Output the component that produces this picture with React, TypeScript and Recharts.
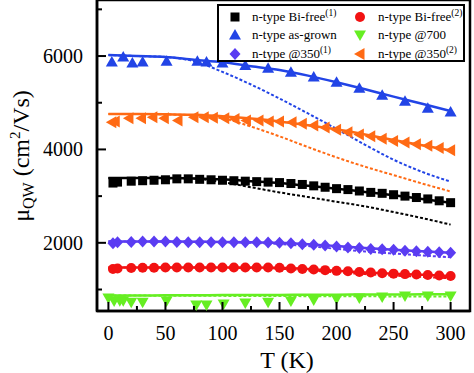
import React from "react";
import {
  ComposedChart,
  Line,
  Scatter,
  XAxis,
  YAxis,
  ReferenceArea,
} from "recharts";

// measured points (T in K, mobility in cm^2/Vs)
const tBiFree1 = [4, 8, 20, 30, 40, 50, 60, 70, 80, 90, 100, 110, 120, 130, 140, 150, 160, 170, 180, 190, 200, 210, 220, 230, 240, 250, 260, 270, 280, 290, 300];
const vBiFree1 = [3280, 3300, 3320, 3330, 3340, 3350, 3370, 3370, 3360, 3350, 3340, 3330, 3320, 3310, 3300, 3290, 3270, 3250, 3220, 3190, 3160, 3140, 3110, 3080, 3060, 3030, 3000, 2970, 2940, 2900, 2860];

const tBiFree2 = tBiFree1;
const vBiFree2 = [1440, 1450, 1460, 1465, 1465, 1470, 1470, 1470, 1470, 1470, 1470, 1470, 1470, 1470, 1470, 1465, 1450, 1440, 1430, 1415, 1400, 1390, 1375, 1365, 1350, 1340, 1330, 1320, 1310, 1300, 1290];

const tAsGrown = [3, 13, 21, 30, 51, 78, 86, 100, 120, 140, 160, 180, 200, 220, 240, 260, 280, 300];
const vAsGrown = [5870, 5980, 5850, 5870, 5890, 5890, 5870, 5850, 5800, 5740, 5655, 5550, 5440, 5310, 5160, 5030, 4880, 4800];

const t700 = [0, 5, 10, 13, 20, 30, 51, 77, 86, 101, 120, 140, 160, 180, 200, 220, 240, 260, 280, 300];
const v700 = [820, 755, 760, 760, 730, 730, 755, 670, 670, 690, 710, 730, 755, 775, 800, 820, 840, 860, 860, 860];

const t350a = tBiFree1;
const v350a = [1990, 2010, 2020, 2030, 2030, 2030, 2020, 2010, 2010, 2010, 2010, 2010, 2010, 2010, 2005, 2000, 1990, 1970, 1960, 1940, 1920, 1900, 1890, 1870, 1860, 1850, 1830, 1820, 1810, 1800, 1790];

const t350b = [3, 6, 18, 29, 39, 49, 61, 75, 84, 92, 102, 111, 121, 132, 141, 150, 161, 170, 180, 190, 200, 210, 220, 230, 240, 250, 260, 270, 280, 290, 300];
const v350b = [4580, 4600, 4670, 4670, 4690, 4670, 4620, 4690, 4690, 4680, 4670, 4650, 4620, 4620, 4600, 4600, 4580, 4550, 4510, 4470, 4420, 4370, 4320, 4280, 4230, 4180, 4150, 4110, 4080, 4030, 3980];

// model curves
const tFit = [0, 25, 50, 75, 100, 125, 150, 175, 200, 225, 250, 275, 300];
const fitBiFree1 = [3390, 3390, 3390, 3380, 3360, 3320, 3280, 3220, 3160, 3090, 3020, 2940, 2860];
const dashBiFree1 = [3390, 3390, 3385, 3375, 3300, 3190, 3080, 2980, 2880, 2780, 2660, 2530, 2390];
const fitBiFree2 = [1470, 1470, 1470, 1470, 1470, 1470, 1465, 1440, 1400, 1365, 1340, 1315, 1290];
const dashBiFree2 = [1470, 1470, 1470, 1470, 1465, 1460, 1445, 1410, 1370, 1330, 1300, 1270, 1240];
const fitAsGrown = [6020, 6000, 5980, 5920, 5870, 5780, 5700, 5580, 5440, 5290, 5130, 4980, 4820];
const dashAsGrown = [6020, 6000, 5980, 5890, 5660, 5390, 5090, 4770, 4440, 4100, 3780, 3520, 3310];
const fit700 = [870, 872, 875, 877, 880, 882, 885, 887, 890, 892, 895, 897, 900];
const dash700 = [870, 870, 868, 866, 864, 862, 860, 858, 856, 854, 852, 850, 848];
const fit350a = [2030, 2030, 2030, 2025, 2020, 2010, 2000, 1970, 1930, 1890, 1850, 1820, 1790];
const dash350a = [2030, 2030, 2030, 2025, 2015, 2000, 1975, 1930, 1870, 1815, 1770, 1730, 1690];
const fit350b = [4760, 4760, 4755, 4740, 4710, 4660, 4600, 4520, 4430, 4320, 4200, 4090, 3980];
const dash350b = [4760, 4760, 4750, 4730, 4670, 4490, 4280, 4050, 3830, 3630, 3450, 3270, 3100];

const xTicks = [0, 25, 50, 75, 100, 125, 150, 175, 200, 225, 250, 275, 300];
const yTicks = [1000, 2000, 3000, 4000, 5000, 6000, 7000];

const BLACK = "#000000";
const RED = "#f21212";
const BLUE = "#2244e6";
const GREEN = "#66ee22";
const PURPLE = "#5a3cf2";
const ORANGE = "#ff6a14";

const FONT = "Liberation Serif, DejaVu Serif, serif";

const zip = (ts: number[], vs: number[]) => ts.map((t, i) => ({ t, v: vs[i] }));

type Kind = "square" | "circle" | "up" | "down" | "diamond" | "left";

const marker = (kind: Kind, cx: number, cy: number, color: string) => {
  switch (kind) {
    case "square":
      return <rect x={cx - 4.5} y={cy - 4.5} width={9} height={9} fill={color} />;
    case "circle":
      return <circle cx={cx} cy={cy} r={5} fill={color} />;
    case "up":
      return <polygon points={`${cx},${cy - 6} ${cx - 6},${cy + 4.5} ${cx + 6},${cy + 4.5}`} fill={color} />;
    case "down":
      return <polygon points={`${cx},${cy + 6} ${cx - 6},${cy - 4.5} ${cx + 6},${cy - 4.5}`} fill={color} />;
    case "diamond":
      return <polygon points={`${cx},${cy - 6} ${cx + 5.5},${cy} ${cx},${cy + 6} ${cx - 5.5},${cy}`} fill={color} />;
    case "left":
      return <polygon points={`${cx - 6},${cy} ${cx + 4.5},${cy - 6} ${cx + 4.5},${cy + 6}`} fill={color} />;
  }
};

const shapeOf = (kind: Kind, color: string) => (p: any) => marker(kind, p.cx, p.cy, color);

const series = [
  { name: "Bi-free", sup: "(1)", kind: "square" as Kind, color: BLACK, pts: zip(tBiFree1, vBiFree1), fit: fitBiFree1, dash: dashBiFree1 },
  { name: "Bi-free", sup: "(2)", kind: "circle" as Kind, color: RED, pts: zip(tBiFree2, vBiFree2), fit: fitBiFree2, dash: dashBiFree2 },
  { name: "as-grown", sup: "", kind: "up" as Kind, color: BLUE, pts: zip(tAsGrown, vAsGrown), fit: fitAsGrown, dash: dashAsGrown },
  { name: "@700", sup: "", kind: "down" as Kind, color: GREEN, pts: zip(t700, v700), fit: fit700, dash: dash700 },
  { name: "@350", sup: "(1)", kind: "diamond" as Kind, color: PURPLE, pts: zip(t350a, v350a), fit: fit350a, dash: dash350a },
  { name: "@350", sup: "(2)", kind: "left" as Kind, color: ORANGE, pts: zip(t350b, v350b), fit: fit350b, dash: dash350b },
];

const XTick = (props: any) => {
  const { x, y, payload } = props;
  const major = payload.value % 50 === 0;
  return (
    <g>
      <line x1={x} x2={x} y1={y} y2={y - (major ? 9 : 5)} stroke="#000" strokeWidth={2} />
      {major && (
        <text x={x} y={y + 29} textAnchor="middle" style={{ fontFamily: FONT }} fontSize={20} fill="#000">
          {payload.value}
        </text>
      )}
    </g>
  );
};

const YTick = (props: any) => {
  const { x, y, payload } = props;
  const major = payload.value % 2000 === 0;
  return (
    <g>
      <line x1={x} x2={x + (major ? 9 : 5)} y1={y} y2={y} stroke="#000" strokeWidth={2} />
      {major && (
        <text x={x - 14} y={y + 7} textAnchor="end" style={{ fontFamily: FONT }} fontSize={20} fill="#000">
          {payload.value}
        </text>
      )}
    </g>
  );
};

const YTitle = () => (
  <text
    x={0}
    y={0}
    transform="translate(29,156) rotate(-90)"
    textAnchor="middle"
    style={{ fontFamily: FONT }}
    fontSize={24}
    fill="#000"
  >
    μ
    <tspan dy={5} fontSize={16}>QW</tspan>
    <tspan dy={-5}> (cm</tspan>
    <tspan dy={-9} fontSize={15}>2</tspan>
    <tspan dy={9}>/Vs)</tspan>
  </text>
);

const XTitle = () => (
  <text x={287} y={368} textAnchor="middle" style={{ fontFamily: FONT }} fontSize={24} fill="#000">
    T (K)
  </text>
);

const LegendBox = () => {
  const rowY = [11, 29, 48];
  const colMarker = [16, 141];
  const colText = [33, 159];
  return (
    <div
      style={{
        position: "absolute",
        left: 217,
        top: 4,
        width: 244,
        height: 54,
        border: "2px solid #000",
        background: "#fff",
        fontFamily: FONT,
        fontSize: 13,
        color: "#000",
      }}
    >
      {series.map((s, i) => {
        const col = i % 2;
        const row = Math.floor(i / 2);
        return (
          <React.Fragment key={i}>
            <svg
              width={16}
              height={16}
              style={{ position: "absolute", left: colMarker[col] - 8, top: rowY[row] - 8 }}
            >
              {marker(s.kind, 8, 8, s.color)}
            </svg>
            <div
              style={{
                position: "absolute",
                left: colText[col],
                top: rowY[row] - 9,
                whiteSpace: "nowrap",
                lineHeight: "18px",
              }}
            >
              n-type {s.name}
              {s.sup && <span style={{ fontSize: 9.5, position: "relative", top: -5 }}>{s.sup}</span>}
            </div>
          </React.Fragment>
        );
      })}
    </div>
  );
};

export default function App() {
  return (
    <div style={{ position: "absolute", left: 0, top: 0, width: 474, height: 373, background: "#fff" }}>
      <ComposedChart width={474} height={373} margin={{ top: 0, right: 4, left: 0, bottom: 0 }}>
        <XAxis
          type="number"
          dataKey="t"
          domain={[-10, 317]}
          allowDataOverflow
          ticks={xTicks}
          interval={0}
          tickSize={0}
          tickMargin={0}
          tick={<XTick />}
          tickLine={false}
          axisLine={{ stroke: "#000", strokeWidth: 2.5 }}
          height={62}
          label={{ content: () => <XTitle /> }}
        />
        <YAxis
          type="number"
          dataKey="v"
          domain={[540, 7200]}
          allowDataOverflow
          ticks={yTicks}
          interval={0}
          tickSize={0}
          tickMargin={0}
          tick={<YTick />}
          tickLine={false}
          axisLine={{ stroke: "#000", strokeWidth: 2.5 }}
          width={97}
          label={{ content: () => <YTitle /> }}
        />
        <ReferenceArea x1={-10} x2={317} y1={540} y2={7200} fill="none" stroke="#000" strokeWidth={2.5} fillOpacity={0} />
        {series.map((s, i) => (
          <Line
            key={`d${i}`}
            data={zip(tFit, s.dash)}
            dataKey="v"
            type="monotone"
            dot={false}
            stroke={s.color}
            strokeWidth={2}
            strokeDasharray="3 2"
            isAnimationActive={false}
          />
        ))}
        {series.map((s, i) => (
          <Line
            key={`f${i}`}
            data={zip(tFit, s.fit)}
            dataKey="v"
            type="monotone"
            dot={false}
            stroke={s.color}
            strokeWidth={2.5}
            isAnimationActive={false}
          />
        ))}
        {series.map((s, i) => (
          <Scatter
            key={`s${i}`}
            data={s.pts}
            dataKey="v"
            fill={s.color}
            shape={shapeOf(s.kind, s.color)}
            isAnimationActive={false}
          />
        ))}
      </ComposedChart>
      <LegendBox />
    </div>
  );
}
